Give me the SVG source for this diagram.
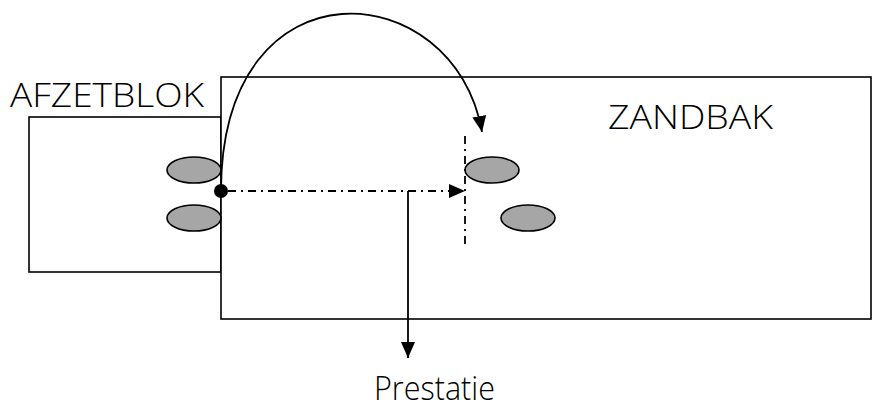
<svg xmlns="http://www.w3.org/2000/svg" width="874" height="403" viewBox="0 0 874 403">
<style>
.box{fill:#fff;stroke:#000;stroke-width:1.6}
.stone{fill:#a6a6a6;stroke:#000;stroke-width:1.6}
.lbl{font-family:"Open Sans","Liberation Sans",sans-serif;font-size:33px;font-weight:300;fill:#000}
.dd{fill:none;stroke:#000;stroke-width:1.8;stroke-dasharray:8,5,2,5}
.ln{fill:none;stroke:#000;stroke-width:1.8}
</style>
<defs>
<marker id="ah" viewBox="0 0 16 14" refX="16" refY="7" markerWidth="16" markerHeight="14" markerUnits="userSpaceOnUse" orient="auto">
<path d="M0,0 L16,7 L0,14 Z" fill="#000"/>
</marker>
</defs>
<g id="afzetblok">
<rect class="box" x="29" y="117" width="192" height="155"/>
<text class="lbl" x="10" y="107" textLength="194" lengthAdjust="spacingAndGlyphs">AFZETBLOK</text>
</g>
<g id="zandbak">
<rect class="box" x="221" y="77" width="650" height="242"/>
<text class="lbl" x="608" y="129" textLength="165" lengthAdjust="spacingAndGlyphs">ZANDBAK</text>
</g>
<g id="stones">
<ellipse class="stone" cx="194" cy="170" rx="27" ry="13"/>
<ellipse class="stone" cx="194" cy="218" rx="27" ry="13"/>
<ellipse class="stone" cx="492" cy="170" rx="27" ry="13"/>
<ellipse class="stone" cx="528" cy="218" rx="27" ry="13"/>
</g>
<g id="prestatie">
<text class="lbl" x="374" y="400" textLength="121" lengthAdjust="spacingAndGlyphs">Prestatie</text>
</g>
<g id="connectors">
<path class="ln" d="M221,190 C222,-45 455,-25 482,132" marker-end="url(#ah)"/>
<path class="dd" d="M228,191 H465" marker-end="url(#ah)"/>
<path class="dd" d="M465,136 V248"/>
<path class="ln" d="M408,191 V358" marker-end="url(#ah)"/>
<circle cx="221" cy="191" r="7" fill="#000"/>
</g>
</svg>
